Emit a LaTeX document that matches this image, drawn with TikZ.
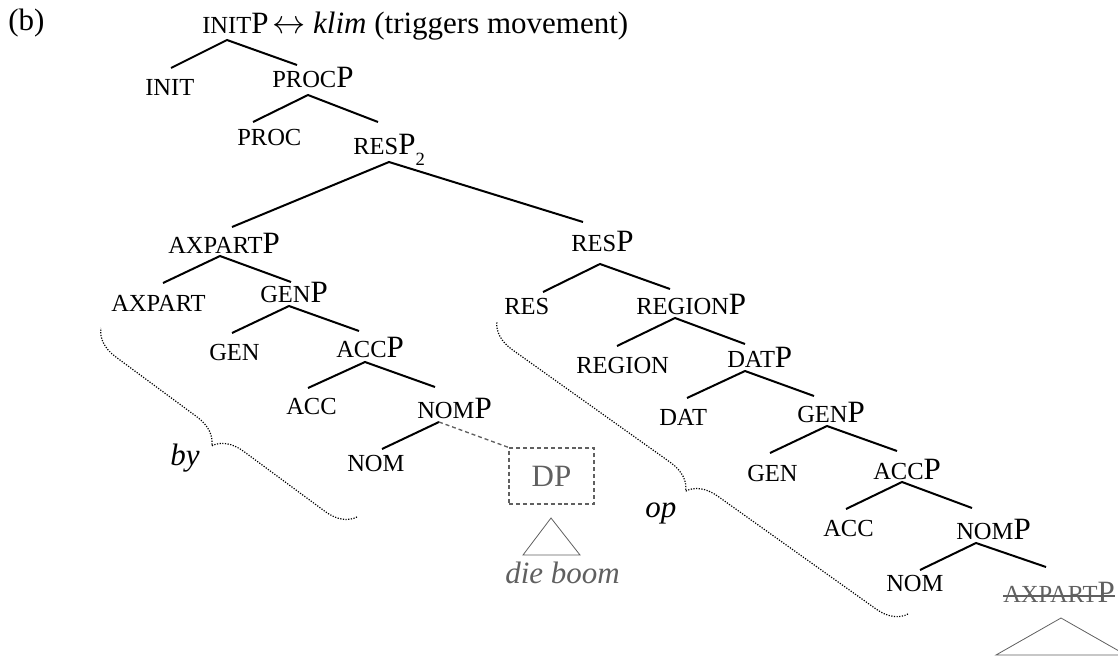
\documentclass[tikz,border=0pt]{standalone}
\usepackage{fontspec}
\setmainfont{Liberation Serif}
\usetikzlibrary{decorations.pathreplacing}
\definecolor{ghost}{HTML}{606060}
\newcommand\sk[1]{{\fontsize{18.4pt}{20pt}\selectfont #1}}
\newcommand\subtwo{\raisebox{-8.25pt}{\fontsize{14pt}{15pt}\selectfont 2}}
\begin{document}
\begin{tikzpicture}[x=0.75pt,y=-0.75pt,
  lbl/.style={anchor=base west,inner sep=0pt,font=\fontsize{23.25pt}{28pt}\selectfont},
  branch/.style={line width=1.5pt},
  ghostline/.style={draw=ghost,line width=1pt,dash pattern=on 3pt off 2.2pt},
  tri/.style={draw=ghost,line width=0.6pt},
  brc/.style={decorate,decoration={brace,amplitude=21.75pt,aspect=0.5},line width=0.9pt,dash pattern=on 0.9pt off 1.1pt}]
\useasboundingbox (0,0) rectangle (1118,657);

% labels
\node[lbl] (b) at (8,30) {(b)};
\node[lbl] (initp) at (202,33) {\sk{INIT}P};
\node[lbl] (gloss) at (272,33) {$\leftrightarrow$ \textit{klim} (triggers movement)};
\node[lbl] (init) at (145,95) {\sk{INIT}};
\node[lbl] (procp) at (272,87) {\sk{PROC}P};
\node[lbl] (proc) at (237,145) {\sk{PROC}};
\node[lbl] (resp2) at (353,154) {\sk{RES}P\subtwo};
\node[lbl] (axpartp) at (168,253) {\sk{AXPART}P};
\node[lbl] (resp) at (571,251) {\sk{RES}P};
\node[lbl] (axpart) at (111,311) {\sk{AXPART}};
\node[lbl] (genpa) at (260,302) {\sk{GEN}P};
\node[lbl] (res) at (504,314) {\sk{RES}};
\node[lbl] (regionp) at (636,314) {\sk{REGION}P};
\node[lbl] (gena) at (209,360) {\sk{GEN}};
\node[lbl] (accpa) at (336,357) {\sk{ACC}P};
\node[lbl] (region) at (576,373) {\sk{REGION}};
\node[lbl] (datp) at (727,367) {\sk{DAT}P};
\node[lbl] (acca) at (286,414) {\sk{ACC}};
\node[lbl] (nompa) at (417,418) {\sk{NOM}P};
\node[lbl] (dat) at (659,425) {\sk{DAT}};
\node[lbl] (genpb) at (797,422) {\sk{GEN}P};
\node[lbl] (noma) at (347,471) {\sk{NOM}};
\node[lbl] (genb) at (747,481) {\sk{GEN}};
\node[lbl] (accpb) at (873,479) {\sk{ACC}P};
\node[lbl] (accb) at (823,536) {\sk{ACC}};
\node[lbl] (nompb) at (956,539) {\sk{NOM}P};
\node[lbl] (nomb) at (886,591) {\sk{NOM}};
\node[lbl,text=ghost] (axs) at (1003,602) {\sk{AXPART}P};
\draw[ghost,line width=0.8pt] ([yshift=4.5pt]axs.base west) -- ([yshift=4.5pt]axs.base east);
\node[draw=ghost,dash pattern=on 3pt off 2.2pt,line width=1pt,text=ghost,
      minimum width=63.75pt,minimum height=42pt,inner sep=0pt,
      font=\fontsize{23.25pt}{28pt}\selectfont] (dp) at (551.5,476) {DP};
\node[lbl,text=ghost] (dieboom) at (505,583) {\textit{die boom}};
\node[lbl] (by) at (170,465) {\textit{by}};
\node[lbl] (op) at (645,517) {\textit{op}};

% attachment points
\coordinate (initpB) at (227,40);
\coordinate (initT) at (171,68);
\coordinate (procpT) at (297,65);
\coordinate (procpB) at (308,95);
\coordinate (procT) at (253,122);
\coordinate (resp2T) at (378,122);
\coordinate (resp2B) at (389,162);
\coordinate (axpartpT) at (232,227);
\coordinate (respT) at (583,222);
\coordinate (axpartpB) at (220,256);
\coordinate (axpartT) at (163,283);
\coordinate (genpaT) at (291,282);
\coordinate (genpaB) at (289,306);
\coordinate (genaT) at (232,333);
\coordinate (accpaT) at (359,331);
\coordinate (accpaB) at (365,362);
\coordinate (accaT) at (308,388);
\coordinate (nompaT) at (435,387);
\coordinate (nompaB) at (439,422);
\coordinate (nomaT) at (382,449);
\coordinate (respB) at (600,264);
\coordinate (resT) at (543,292);
\coordinate (regionpT) at (670,289);
\coordinate (regionpB) at (675,318);
\coordinate (regionT) at (617,346);
\coordinate (datpT) at (745,344);
\coordinate (datpB) at (745,371);
\coordinate (datT) at (687,398);
\coordinate (genpbT) at (814,396);
\coordinate (genpbB) at (827,426);
\coordinate (genbT) at (770,453);
\coordinate (accpbT) at (897,451);
\coordinate (accpbB) at (902,482);
\coordinate (accbT) at (846,509);
\coordinate (nompbT) at (972,508);
\coordinate (nompbB) at (976,543);
\coordinate (nombT) at (920,570);
\coordinate (axsT) at (1046,567);

% branches
\draw[branch] (initT) -- (initpB) -- (procpT);
\draw[branch] (procT) -- (procpB) -- (resp2T);
\draw[branch] (axpartpT) -- (resp2B) -- (respT);
\draw[branch] (axpartT) -- (axpartpB) -- (genpaT);
\draw[branch] (genaT) -- (genpaB) -- (accpaT);
\draw[branch] (accaT) -- (accpaB) -- (nompaT);
\draw[branch] (nomaT) -- (nompaB);
\draw[ghostline] (nompaB) -- (dp.north west);
\draw[branch] (resT) -- (respB) -- (regionpT);
\draw[branch] (regionT) -- (regionpB) -- (datpT);
\draw[branch] (datT) -- (datpB) -- (genpbT);
\draw[branch] (genbT) -- (genpbB) -- (accpbT);
\draw[branch] (accbT) -- (accpbB) -- (nompbT);
\draw[branch] (nombT) -- (nompbB) -- (axsT);

% triangles
\coordinate (dtA) at (551,518);
\coordinate (dtL) at (523,555);
\coordinate (dtR) at (580,555);
\draw[tri] (dtA) -- (dtL) -- (dtR) -- cycle;
\coordinate (atA) at (1061,618);
\coordinate (atL) at (996,655);
\coordinate (atR) at (1126,655);
\draw[tri] (atA) -- (atL) -- (atR) -- cycle;

% braces
\coordinate (lbA) at (101,328);
\coordinate (lbB) at (357,517);
\draw[brc] (lbB) -- (lbA);
\coordinate (rbA) at (497,321);
\coordinate (rbB) at (908,614);
\draw[brc] (rbB) -- (rbA);
\end{tikzpicture}
\end{document}
